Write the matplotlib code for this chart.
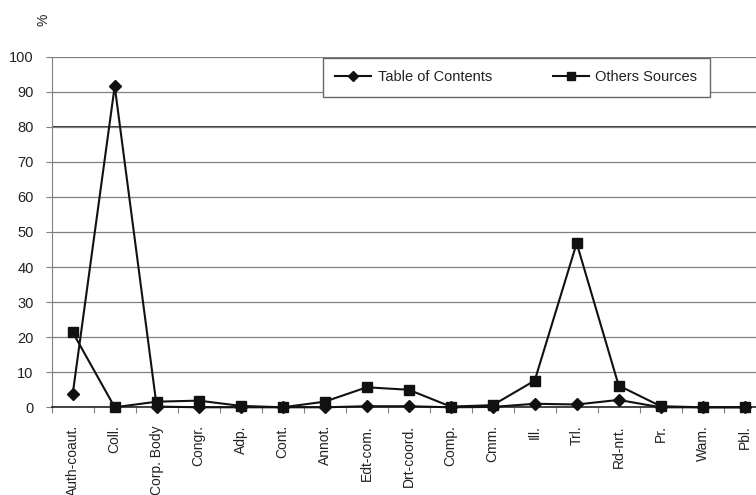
import numpy as np
import matplotlib
matplotlib.use("Agg")
import matplotlib.pyplot as plt

plt.rcParams["font.family"] = ["Liberation Sans", "DejaVu Sans"]

categories = [
    "Auth-coaut.", "Coll.", "Corp. Body", "Congr.", "Adp.", "Cont.",
    "Annot.", "Edt-com.", "Drt-coord.", "Comp.", "Cmm.", "Ill.", "Trl.",
    "Rd-nrt.", "Pr.", "Wam.", "Pbl.",
]
table_of_contents = [3.8, 91.6, 0.2, 0.0, 0.0, 0.0, 0.0, 0.3, 0.3, 0.0,
                     0.1, 1.0, 0.8, 2.1, 0.0, 0.0, 0.0]
other_sources = [21.4, 0.0, 1.6, 1.9, 0.4, 0.0, 1.6, 5.7, 5.0, 0.2,
                 0.6, 7.6, 46.8, 6.2, 0.3, 0.0, 0.0]
y_ticks = list(range(0, 101, 10))

fig = plt.figure(figsize=(7.56, 4.95), dpi=100)
# plot area runs a little past the right edge of the figure
ax = fig.add_axes([0.0684, 0.1772, 0.9444, 0.7083])

x = np.arange(len(categories))
ax.set_xlim(-0.5, len(categories) - 0.5)
ax.set_ylim(0, 100)

ax.set_yticks(y_ticks)
ax.grid(axis="y", color="#808080", lw=0.9, zorder=0)
ax.axhline(80, color="#111111", lw=1.2, zorder=1)

ax.plot(x, table_of_contents, color="#111111", lw=1.5, marker="D",
        markersize=5.8, label="Table of Contents", zorder=3, clip_on=False)
ax.plot(x, other_sources, color="#111111", lw=1.5, marker="s",
        markersize=7, label="Others Sources", zorder=4, clip_on=False)

for side in ("top", "right"):
    ax.spines[side].set_visible(False)
ax.spines["left"].set_color("#808080")
ax.spines["bottom"].set_color("#111111")
ax.spines["bottom"].set_linewidth(1.1)

ax.set_xticks(x)
ax.set_xticklabels(categories, rotation=90, fontsize=10, color="#222222")
ax.set_xticks(np.arange(-0.5, len(categories) + 0.5, 1), minor=True)
ax.tick_params(axis="x", which="major", length=0, pad=13)
ax.tick_params(axis="x", which="minor", length=4, width=0.8, color="#808080")
ax.tick_params(axis="y", length=4, width=0.8, color="#808080", pad=9,
               labelsize=10.5, labelcolor="#222222")

ax.legend(loc="upper left", bbox_to_anchor=(0.38, 0.996), ncol=2,
          fancybox=False, edgecolor="#666666", framealpha=1,
          borderpad=0.85, borderaxespad=0, handlelength=2.45,
          handletextpad=0.45, columnspacing=4.2, markerscale=0.85,
          fontsize=10.5, labelcolor="#222222")

fig.text(0.058, 0.96, "%", rotation=90, fontsize=10, color="#222222",
         ha="center", va="center")

fig.savefig("out.png", dpi=100)
